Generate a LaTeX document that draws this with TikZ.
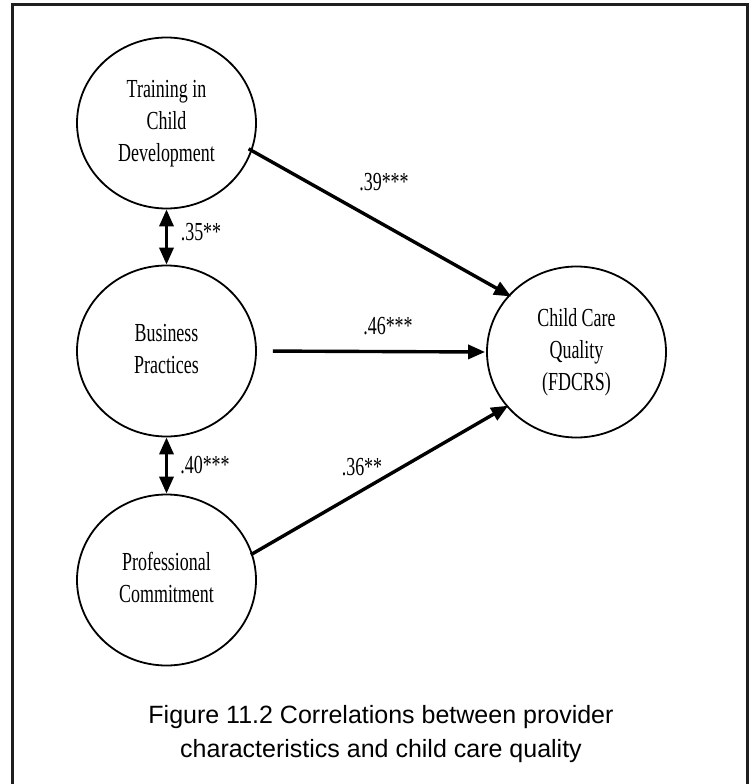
\documentclass[tikz,border=0pt]{standalone}
\usepackage{fontspec}
\usetikzlibrary{shapes.geometric,arrows.meta}
\newfontfamily\nodefont[FakeStretch=0.69]{Liberation Serif}
\newfontfamily\capfont{Liberation Sans}
\newcommand{\nodelines}[2]{\raisebox{#1}{\begin{tabular}{@{}c@{}}#2\end{tabular}}}
\tikzset{
  var/.style={draw, ellipse, line width=1.8pt, minimum width=179pt, minimum height=171pt, inner sep=0pt,
    font=\nodefont\fontsize{26pt}{32pt}\selectfont},
  coef/.style={font=\nodefont\fontsize{26pt}{32pt}\selectfont, inner sep=0pt},
  effect/.style={line width=3.4pt, -{Triangle[length=17pt,width=14pt]}},
  corr/.style={line width=3.4pt, {Triangle[length=17pt,width=14pt]}-{Triangle[length=17pt,width=14pt]}},
  capline/.style={font=\capfont\fontsize{25pt}{34pt}\selectfont, inner sep=0pt, anchor=base}
}
\begin{document}
\begin{tikzpicture}[x=1pt,y=-1pt]
\useasboundingbox (0,0) rectangle (750,784);
\draw[line width=3pt, color=black!88] (12,795) -- (12,5) -- (747.5,5) -- (747.5,795);

\node[var] (T) at (166.5,123) {\nodelines{-1pt}{Training in\\Child\\Development}};
\node[var] (B) at (166.5,351) {\nodelines{16pt}{Business\\Practices}};
\node[var] (P) at (166.5,580) {\nodelines{16pt}{Professional\\Commitment}};
\node[var] (Q) at (576.5,352) {\nodelines{0pt}{Child Care\\Quality\\(FDCRS)}};

\draw[corr] (T.south) -- (B.north);
\draw[corr] (B.south) -- (P.north);
\draw[effect, shorten <=-4pt, shorten >=-3pt] (T.-18.7) -- (Q.140.5);
\draw[effect, shorten <=16pt, shorten >=1pt] (B.east) -- (Q.west);
\draw[effect, shorten <=-2pt, shorten >=-2pt] (P.17.5) -- (Q.218.5);

\node[coef] (c35) at (201,232) {.35**};
\node[coef] (c40) at (205,465) {.40***};
\node[coef] (c39) at (384,182) {.39***};
\node[coef] (c46) at (388,326) {.46***};
\node[coef] (c36) at (362,467) {.36**};

\node[capline] (cap1) at (381,723) {Figure 11.2 Correlations between provider};
\node[capline] (cap2) at (381,757) {characteristics and child care quality};
\end{tikzpicture}
\end{document}
